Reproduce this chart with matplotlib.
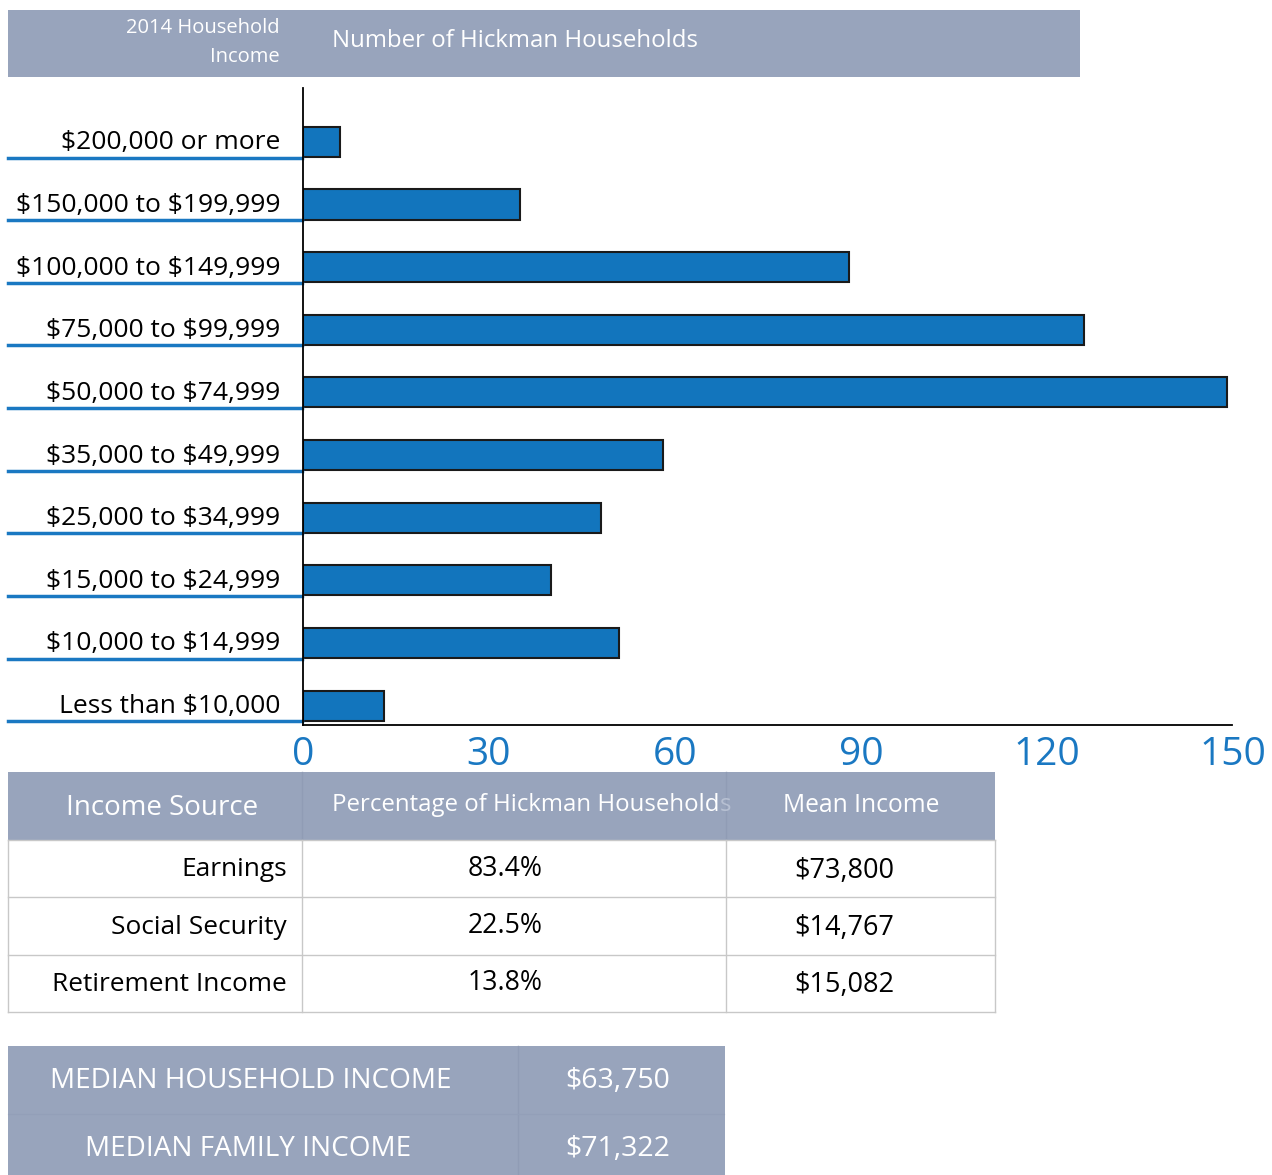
import matplotlib
matplotlib.use("Agg")
import matplotlib.pyplot as plt
from matplotlib.patches import Rectangle
from matplotlib.lines import Line2D
import matplotlib.transforms as mtransforms

W, H = 1272, 1175

# income brackets, bottom to top
brackets = [
    "Less than $10,000",
    "$10,000 to $14,999",
    "$15,000 to $24,999",
    "$25,000 to $34,999",
    "$35,000 to $49,999",
    "$50,000 to $74,999",
    "$75,000 to $99,999",
    "$100,000 to $149,999",
    "$150,000 to $199,999",
    "$200,000 or more",
]
households = [13, 51, 40, 48, 58, 149, 126, 88, 35, 6]
xticks = [0, 30, 60, 90, 120, 150]

# income source table
sources = ["Earnings", "Social Security", "Retirement Income"]
pct_households = ["83.4%", "22.5%", "13.8%"]
mean_income = ["$73,800", "$14,767", "$15,082"]

# medians
median_labels = ["MEDIAN HOUSEHOLD INCOME", "MEDIAN FAMILY INCOME"]
median_values = ["$63,750", "$71,322"]

BAND = "#98a4bc"
SEP = "#909cb5"
BLUE = "#1275bd"
LINE_BLUE = "#1a78c2"
GRID = "#c8c8c8"
FONT = ["Open Sans", "DejaVu Sans"]

plt.rcParams["font.family"] = FONT
plt.rcParams["text.parse_math"] = False


def fx(x):
    return x / W


def fy(y):
    return 1 - y / H


def box(x0, y0, x1, y1, **kw):
    fig.add_artist(Rectangle((fx(x0), fy(y1)), fx(x1) - fx(x0), fy(y0) - fy(y1),
                             transform=fig.transFigure, **kw))


def hline(x0, x1, y, **kw):
    fig.add_artist(Line2D([fx(x0), fx(x1)], [fy(y), fy(y)], transform=fig.transFigure, **kw))


def vline(x, y0, y1, **kw):
    fig.add_artist(Line2D([fx(x), fx(x)], [fy(y0), fy(y1)], transform=fig.transFigure, **kw))


fig = plt.figure(figsize=(W / 100, H / 100), dpi=100)

# ---- top header band
box(8, 10, 1080, 77, facecolor=BAND, edgecolor="none")
fig.text(fx(280), fy(28), "2014 Household", ha="right", va="center", color="white", fontsize=14.5)
fig.text(fx(280), fy(57), "Income", ha="right", va="center", color="white", fontsize=14.5)
fig.text(fx(332), fy(41), "Number of Hickman Households", ha="left", va="center",
         color="white", fontsize=17.3)

# ---- bar chart
ax_l, ax_r, ax_t, ax_b = 303, 1233, 88, 725
ax = fig.add_axes([fx(ax_l), fy(ax_b), fx(ax_r) - fx(ax_l), fy(ax_t) - fy(ax_b)])
ypos = list(range(len(brackets)))
ax.barh(ypos, households, height=0.48, color=BLUE, edgecolor="#1a1a1a", linewidth=1.5)
ax.set_xlim(0, 150)
ax.set_ylim(-0.31, 9.86)
ax.set_xticks(xticks)
ax.set_xticklabels([str(t) for t in xticks])
ax.tick_params(axis="x", length=0, pad=8, labelsize=28, labelcolor=LINE_BLUE)
ax.set_yticks([])
for s in ["top", "right"]:
    ax.spines[s].set_visible(False)
ax.spines["left"].set_linewidth(1.3)
ax.spines["bottom"].set_linewidth(1.3)
ax.spines["bottom"].set_bounds(0, 149.8)

# labels with blue underline (x in figure px, y in data)
trans = mtransforms.blended_transform_factory(fig.transFigure, ax.transData)
for i, lab in enumerate(brackets):
    ax.add_line(Line2D([fx(8), fx(302)], [i - 0.25, i - 0.25], transform=trans,
                       color=LINE_BLUE, linewidth=2.5, clip_on=False))
    ax.text(fx(280), i - 0.12, lab, transform=trans, ha="right", va="baseline",
            fontsize=19, color="black")

# ---- income source table
tx = [8, 302, 726, 995]
ty = [772, 840, 897, 955, 1012]
box(tx[0], ty[0], tx[3], ty[1], facecolor=BAND, edgecolor="none")
vline(tx[1], ty[0], ty[1], color=SEP, linewidth=1)
vline(tx[2], ty[0], ty[1], color=SEP, linewidth=1)
for y in ty[1:]:
    hline(tx[0], tx[3], y, color=GRID, linewidth=1)
for x in tx:
    vline(x, ty[1], ty[4], color=GRID, linewidth=1)

fig.text(fx(162), fy(808), "Income Source", ha="center", va="center", color="white", fontsize=20)
t = fig.text(fx(332), fy(805), "Percentage of Hickman Household", ha="left", va="center",
             color="white", fontsize=17.3)
fig.canvas.draw()
bb = t.get_window_extent()
fig.text(bb.x1 / W, fy(805), "s", ha="left", va="center", color="#b7c0d2", fontsize=17.3)
fig.text(fx(861), fy(805), "Mean Income", ha="center", va="center", color="white", fontsize=17.7)

for r in range(3):
    yc = (ty[r + 1] + ty[r + 2]) / 2
    fig.text(fx(287), fy(yc + 1), sources[r], ha="right", va="center", fontsize=18.9)
    fig.text(fx(505), fy(yc), pct_households[r], ha="center", va="center", fontsize=19.2)
    fig.text(fx(844), fy(yc + 2), mean_income[r], ha="center", va="center", fontsize=19.5)

# ---- median box
box(8, 1046, 725, 1175, facecolor=BAND, edgecolor="none")
vline(518, 1046, 1175, color=SEP, linewidth=1)
hline(8, 724, 1114, color="#939fb8", linewidth=0.8)
for r, (lab, val) in enumerate(zip(median_labels, median_values)):
    yc = 1081 + r * 68
    xc = 251 if r == 0 else 248
    fig.text(fx(xc), fy(yc), lab, ha="center", va="center", color="white", fontsize=20.1)
    fig.text(fx(618), fy(yc), val, ha="center", va="center", color="white", fontsize=20.5)

fig.savefig("out.png", dpi=100)
